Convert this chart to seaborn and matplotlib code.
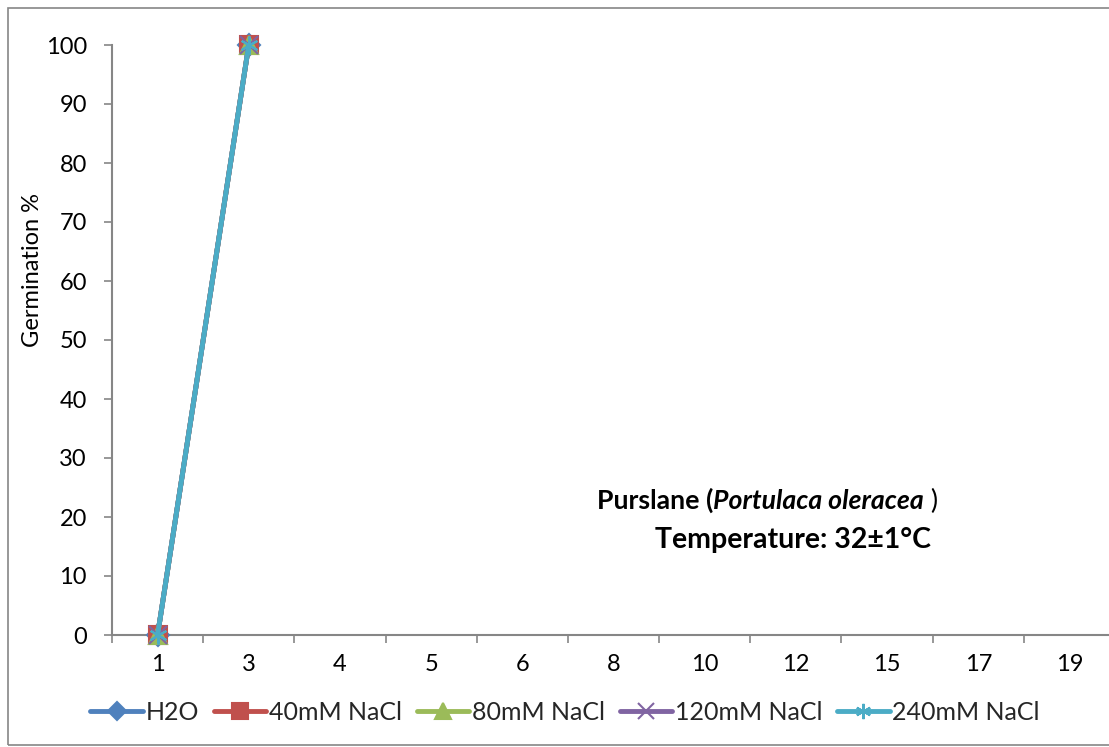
import numpy as np
import pandas as pd
import seaborn as sns
import matplotlib
matplotlib.use("Agg")
import matplotlib.pyplot as plt
from matplotlib.patches import Rectangle

# ---- data ----
days = ["1", "3", "4", "5", "6", "8", "10", "12", "15", "17", "19"]
h2o = [0, 100] + [np.nan] * 9
nacl40 = [0, 100] + [np.nan] * 9
nacl80 = [0, 100] + [np.nan] * 9
nacl120 = [0, 100] + [np.nan] * 9
nacl240 = [0, 100] + [np.nan] * 9
series_names = ["H2O", "40mM NaCl", "80mM NaCl", "120mM NaCl", "240mM NaCl"]
yticks = [0, 10, 20, 30, 40, 50, 60, 70, 80, 90, 100]

sns.set_theme(style="white")
plt.rcParams['font.family'] = ['Lato', 'DejaVu Sans']

W, H = 1109, 747
fig = plt.figure(figsize=(W / 100, H / 100), dpi=100)
ax = fig.add_axes([112 / W, 1 - 635 / H, (1115 - 112) / W, (635 - 45) / H])

colors = ["#4F81BD", "#C0504D", "#9BBB59", "#8064A2", "#4BACC6"]
markers = ["D", "s", "^", "x", (6, 2, 0)]
msizes = [11, 13, 13, 13, 13]
pos = np.arange(len(days))
handles = []
for name, vals, c, m, ms in zip(series_names, [h2o, nacl40, nacl80, nacl120, nacl240],
                                colors, markers, msizes):
    df = pd.DataFrame({"x": pos, "y": vals}).dropna()
    sns.lineplot(data=df, x="x", y="y", ax=ax, color=c, linewidth=3.5,
                 marker=m, markersize=ms, markeredgecolor=c, markeredgewidth=1.5,
                 label=name, legend=False, zorder=3, clip_on=False)
    handles.append(plt.Line2D([], [], color=c, linewidth=3.5, marker=m, markersize=ms - 2,
                              markeredgecolor=c, markeredgewidth=1.5))

ax.set_xlim(-0.5, (1115 - 112) / 91.2 - 0.5)
ax.set_ylim(0, 100)
ax.set_yticks(yticks)
ax.set_xticks(np.arange(len(days) + 1) - 0.5)
ax.set_xticklabels([])
ax.set_xticks(pos, minor=True)
ax.set_xticklabels(days, minor=True)
ax.tick_params(axis="x", which="major", length=6, width=1.2, color="#868686", direction="out", bottom=True)
ax.tick_params(axis="x", which="minor", length=0, pad=14, labelsize=17, labelcolor="black")
ax.tick_params(axis="y", length=6, width=1.2, color="#868686", direction="out", left=True,
               labelsize=17, labelcolor="black", pad=12)
for s in ["top", "right"]:
    ax.spines[s].set_visible(False)
for s in ["left", "bottom"]:
    ax.spines[s].set_color("#868686")
    ax.spines[s].set_linewidth(1.5)
ax.set_xlabel("")
ax.set_ylabel("Germination %", fontsize=17, color="black", va="center")
ax.yaxis.set_label_coords((33 - 112) / 1003, (635 - 270) / 590)
ax.grid(False)

# annotation
renderer = fig.canvas.get_renderer()
def chain(pieces, x0, ybase, size):
    x = x0
    for txt, style, weight in pieces:
        t = fig.text(x / W, 1 - ybase / H, txt, fontsize=size, fontstyle=style,
                     fontweight=weight, va="baseline", ha="left", color="black")
        bb = t.get_window_extent(renderer)
        x += bb.width
chain([("Purslane (", "normal", "bold"), ("Portulaca oleracea", "italic", "bold"),
       (" )", "normal", "normal")], 597, 509, 19.2)
chain([("Temperature: 32±1°C", "normal", "bold")], 655, 548, 20.5)

fig.legend(handles, series_names, loc="center", bbox_to_anchor=(565 / W, 1 - 712 / H),
           ncol=5, frameon=False, fontsize=18, handlelength=2.1, handletextpad=0.1,
           columnspacing=0.6)

fig.patches.append(Rectangle((8 / W, 1 - 745 / H), (1120 - 8) / W, (745 - 8) / H,
                             transform=fig.transFigure, fill=False, edgecolor="#868686",
                             linewidth=1.2))

fig.savefig("out.png", dpi=100)
